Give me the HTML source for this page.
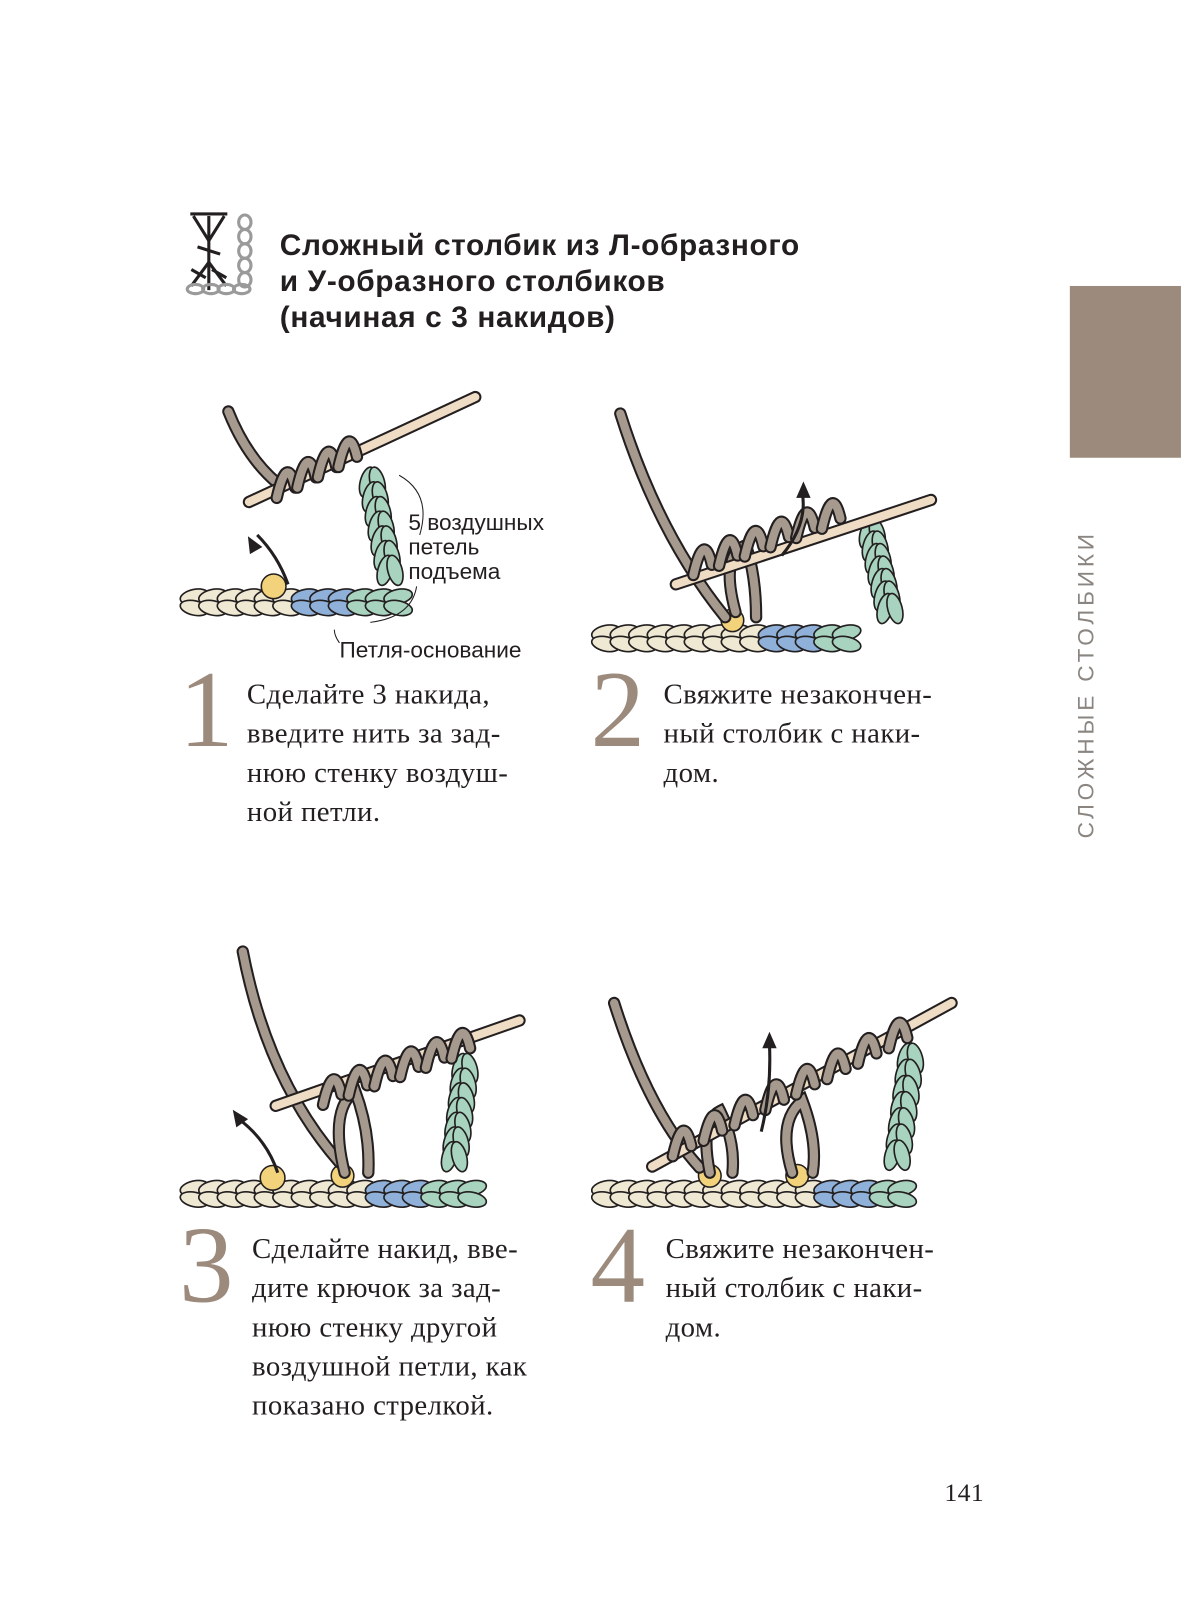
<!DOCTYPE html>
<html><head><meta charset="utf-8"><style>
body{margin:0;background:#fff}
#o{position:relative;width:1181px;height:1614px;overflow:hidden;background:#fff}
#p{position:absolute;left:0;top:0;width:1148px;height:1569px;transform-origin:0 0;transform:scale(1.0287)}
.t{position:absolute;font-family:"Liberation Sans",sans-serif;font-weight:bold;font-size:29px;line-height:35px;color:#231f20;left:272px;top:222px;letter-spacing:0.6px;white-space:nowrap}
.n{position:absolute;font-family:"Liberation Serif",serif;font-size:106px;line-height:100px;color:#9c8b7d}
.s{position:absolute;font-family:"Liberation Serif",serif;font-size:28px;line-height:38px;color:#231f20;white-space:nowrap;letter-spacing:0.4px}
.l{position:absolute;font-family:"Liberation Sans",sans-serif;font-size:22px;line-height:24px;color:#231f20;white-space:nowrap}
svg{position:absolute;left:0;top:0}
</style></head><body><div id="o"><div id="p">
<svg id="g" width="1148" height="1569"></svg>
<div style="position:absolute;left:1040px;top:278px;width:108px;height:167px;background:#9c8b7d"></div>
<div style="position:absolute;left:1044px;top:815px;transform-origin:0 0;transform:rotate(-90deg);font-family:'Liberation Sans',sans-serif;font-size:22px;line-height:24px;letter-spacing:3.7px;color:#8a8580;white-space:nowrap">СЛОЖНЫЕ СТОЛБИКИ</div>
<div class="t">Сложный столбик из Л-образного<br>и У-образного столбиков<br>(начиная с 3 накидов)</div>
<div class="l" style="left:397px;top:496px">5 воздушных<br>петель<br>подъема</div>
<div class="l" style="left:330px;top:620px">Петля-основание</div>
<div class="n" style="left:174px;top:640px">1</div>
<div class="s" style="left:240px;top:657px">Сделайте 3 накида,<br>введите нить за зад-<br>нюю стенку воздуш-<br>ной петли.</div>
<div class="n" style="left:574px;top:640px">2</div>
<div class="s" style="left:645px;top:657px">Свяжите незакончен-<br>ный столбик с наки-<br>дом.</div>
<div class="n" style="left:174px;top:1180px">3</div>
<div class="s" style="left:245px;top:1196px">Сделайте накид, вве-<br>дите крючок за зад-<br>нюю стенку другой<br>воздушной петли, как<br>показано стрелкой.</div>
<div class="n" style="left:574px;top:1180px">4</div>
<div class="s" style="left:647px;top:1196px">Свяжите незакончен-<br>ный столбик с наки-<br>дом.</div>
<div class="s" style="left:918px;top:1433px;font-size:25px">141</div>
</div></div>
<script>
var g=document.getElementById('g'),h='';
h+='<g stroke="#231f20" stroke-width="3" fill="none"><line x1="203" y1="210" x2="203" y2="282"/><line x1="185" y1="208" x2="221" y2="208"/><line x1="188" y1="210" x2="203" y2="234"/><line x1="218" y1="210" x2="203" y2="234"/><line x1="203" y1="255" x2="186" y2="278"/><line x1="203" y1="255" x2="220" y2="278"/><line x1="192" y1="240" x2="214" y2="247"/><line x1="186" y1="262" x2="200" y2="270"/><line x1="206" y1="262" x2="220" y2="270"/></g>';
for(var i=0;i<5;i++)h+='<ellipse cx="238" cy="'+(216+i*14)+'" rx="6" ry="7" fill="none" stroke="#9a9a9a" stroke-width="3"/>';
for(var i=0;i<4;i++)h+='<ellipse cx="'+(190+i*15)+'" cy="281" rx="8" ry="4.5" fill="none" stroke="#9a9a9a" stroke-width="3"/>';
function chain(x1,x2,y,b1,b2){var s='';for(var x=x1;x<x2;x+=18){var c=(x>=b1&&x<b2)?'#8fb0d8':(x>=b2?'#a8d4bf':'#efe9d3');s+='<ellipse cx="'+(x+9)+'" cy="'+(y-5)+'" rx="14" ry="7" fill="'+c+'" stroke="#231f20" stroke-width="1.6" transform="rotate(-12 '+(x+9)+' '+(y-5)+')"/><ellipse cx="'+(x+9)+'" cy="'+(y+6)+'" rx="14" ry="7" fill="'+c+'" stroke="#231f20" stroke-width="1.6" transform="rotate(12 '+(x+9)+' '+(y+6)+')"/>';}return s;}
function vch(x1,y1,x2,y2){var s='',n=7;for(var i=0;i<n;i++){var x=x1+(x2-x1)*i/n,y=y1+(y2-y1)*i/n;s+='<ellipse cx="'+(x-5)+'" cy="'+y+'" rx="7" ry="15" fill="#a8d4bf" stroke="#231f20" stroke-width="1.6" transform="rotate(15 '+x+' '+y+')"/><ellipse cx="'+(x+5)+'" cy="'+y+'" rx="7" ry="15" fill="#a8d4bf" stroke="#231f20" stroke-width="1.6" transform="rotate(-15 '+x+' '+y+')"/>';}return s;}
function hook(x1,y1,x2,y2){return '<line x1="'+x1+'" y1="'+y1+'" x2="'+x2+'" y2="'+y2+'" stroke="#231f20" stroke-width="12" stroke-linecap="round"/><line x1="'+x1+'" y1="'+y1+'" x2="'+x2+'" y2="'+y2+'" stroke="#efdcc4" stroke-width="8" stroke-linecap="round"/>';}
function yarn(d){return '<path d="'+d+'" stroke="#231f20" stroke-width="12" fill="none" stroke-linecap="round"/><path d="'+d+'" stroke="#a59a8d" stroke-width="8" fill="none" stroke-linecap="round"/>';}
function wraps(x,y,dx,dy,n){var s='';for(var i=0;i<n;i++){var cx=x+dx*i,cy=y+dy*i;s+=yarn('M'+(cx-6)+' '+(cy+14)+' Q'+(cx+4)+' '+(cy-30)+' '+(cx+12)+' '+(cy+4));}return s;}
function arrow(d,ax,ay,ang){return '<path d="'+d+'" stroke="#231f20" stroke-width="3" fill="none"/><polygon points="0,-10 7,6 -7,6" fill="#231f20" transform="translate('+ax+' '+ay+') rotate('+ang+')"/>';}
h+=chain(180,380,585,285,330);
h+='<circle cx="266" cy="570" r="12" fill="#f2d27a" stroke="#231f20" stroke-width="1.5"/>';
h+=vch(362,470,382,570);
h+=yarn('M222 400 Q240 445 270 470');
h+=hook(242,488,462,386);
h+=wraps(275,470,20,-10,4);
h+=arrow('M280 568 Q270 540 250 520',246,530,-30);
h+='<path d="M388 462 Q420 480 408 520 M405 570 Q400 600 360 605 M330 625 Q325 618 325 612" stroke="#231f20" fill="none"/>';
h+=chain(580,820,620,740,785);
h+='<circle cx="712" cy="603" r="11" fill="#f2d27a" stroke="#231f20" stroke-width="1.5"/>';
h+=vch(848,520,868,605);
h+=yarn('M603 402 Q640 520 705 600');
h+=yarn('M715 595 Q700 540 725 530 Q735 560 735 600');
h+=hook(657,568,905,486);
h+=wraps(680,545,25,-9,6);
h+=arrow('M760 540 Q785 510 780 480',781,478,0);
h+=chain(180,460,1160,350,400);
h+='<circle cx="265" cy="1145" r="12" fill="#f2d27a" stroke="#231f20" stroke-width="1.5"/>';
h+='<circle cx="333" cy="1143" r="11" fill="#f2d27a" stroke="#231f20" stroke-width="1.5"/>';
h+=vch(452,1040,440,1140);
h+=yarn('M236 925 Q260 1050 330 1130');
h+=yarn('M335 1140 Q320 1080 345 1060 Q360 1100 358 1140');
h+=hook(268,1075,505,992);
h+=wraps(320,1060,25,-9,6);
h+=arrow('M270 1140 Q260 1110 235 1090',232,1087,-35);
h+=chain(580,880,1160,790,840);
h+='<circle cx="690" cy="1143" r="11" fill="#f2d27a" stroke="#231f20" stroke-width="1.5"/>';
h+='<circle cx="775" cy="1143" r="11" fill="#f2d27a" stroke="#231f20" stroke-width="1.5"/>';
h+=vch(885,1030,870,1140);
h+=yarn('M597 975 Q630 1080 680 1135');
h+=yarn('M690 1140 Q680 1090 700 1080 Q715 1110 712 1140');
h+=yarn('M770 1140 Q755 1090 780 1070 Q795 1110 790 1140');
h+=hook(634,1134,925,975);
h+=wraps(660,1110,30,-15,8);
h+=arrow('M740 1100 Q750 1060 748 1015',748,1013,0);
g.innerHTML=h;
</script>
</body></html>
